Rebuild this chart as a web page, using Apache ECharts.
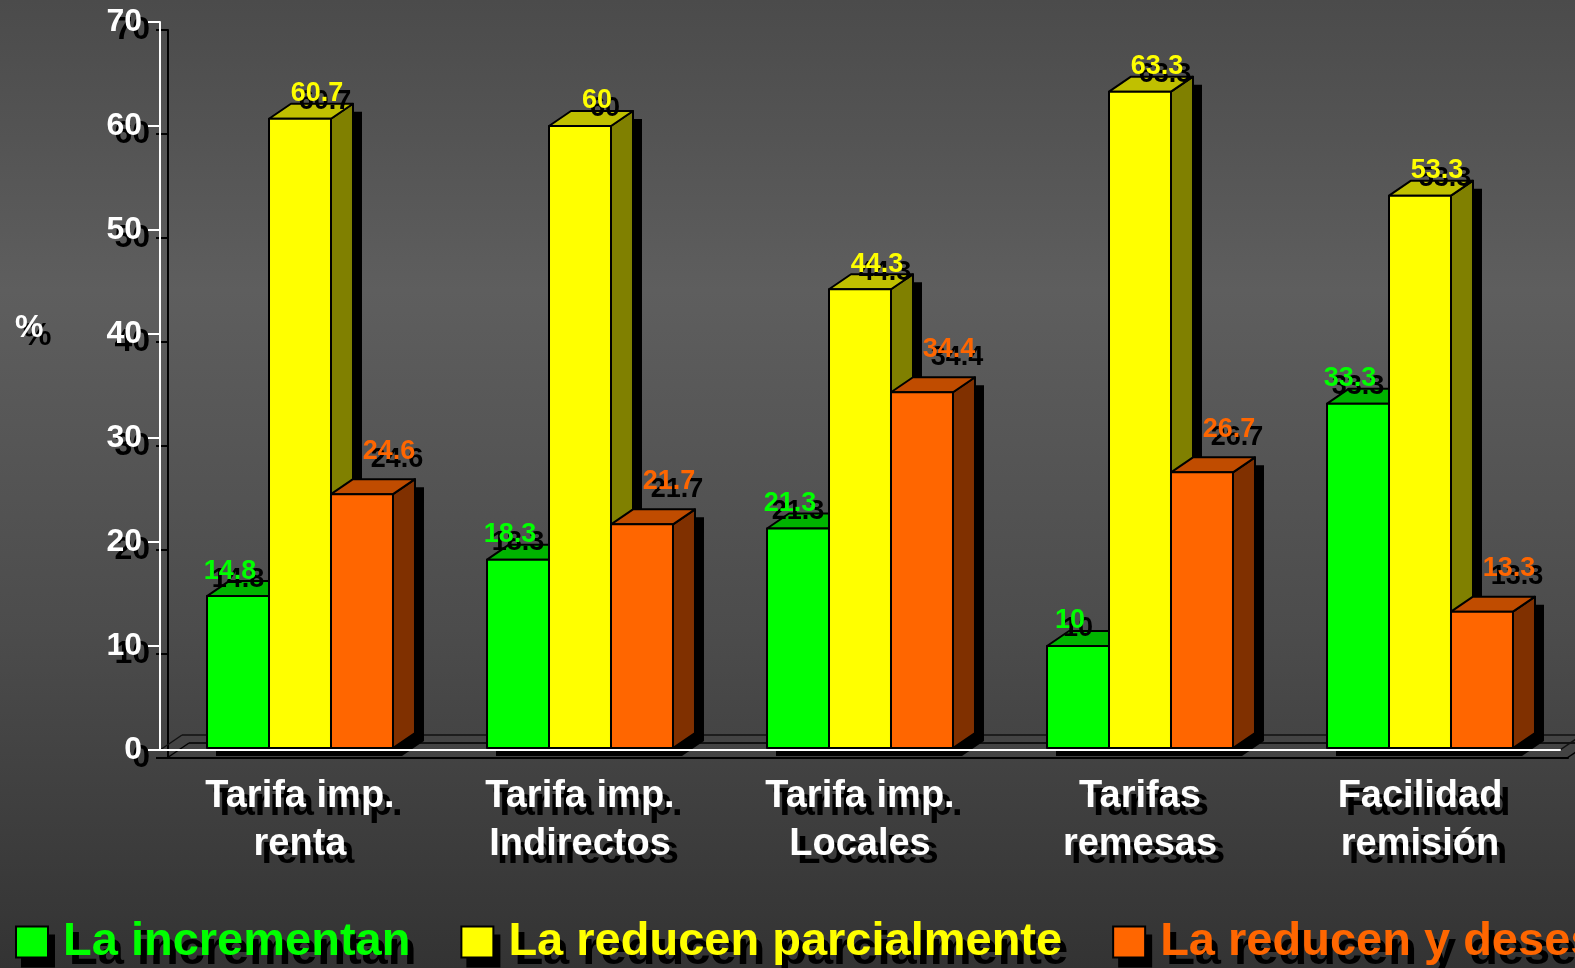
<!DOCTYPE html>
<html>
<head>
<meta charset="utf-8">
<script src="https://cdn.jsdelivr.net/npm/echarts@6/dist/echarts.min.js"></script>
<style>
  html, body { margin: 0; padding: 0; }
  #chart { width: 1575px; height: 968px; }
</style>
</head>
<body>
<div id="chart"></div>
<script>
// categorias del eje x
var categories = ['Tarifa imp.\nrenta', 'Tarifa imp.\nIndirectos', 'Tarifa imp.\nLocales', 'Tarifas\nremesas', 'Facilidad\nremisión'];
// valores de cada serie (%)
var incrementan = [14.8, 18.3, 21.3, 10, 33.3];
var reducenParcial = [60.7, 60, 44.3, 63.3, 53.3];
var reducenDesest = [24.6, 21.7, 34.4, 26.7, 13.3];
var seriesNames = ['La incrementan', 'La reducen parcialmente', 'La reducen y desestimulan'];
var yTicks = [0, 10, 20, 30, 40, 50, 60, 70];

// colores: frente, tapa, lado
var frontColors = ['#00ff00', '#ffff00', '#ff6600'];
var topColors = ['#00b400', '#c0c000', '#c04c00'];
var sideColors = ['#008000', '#808000', '#803000'];
// desplazamiento de etiquetas por serie
var labelDx = [-8, 17, 27];
var labelDy = [-10, -10, -28];

var FONT = '"Liberation Sans", Arial, sans-serif';
var DX = 22, DY = -15; // profundidad 3D
var SX = 9, SY = 8;    // sombra de barras
var TS = 8;            // sombra de textos y ejes

var chart = echarts.init(document.getElementById('chart'));

function renderBar(params, api) {
  var si = params.seriesIndex;
  var val = api.value(1);
  var base = api.coord([api.value(0), 0]);
  var top = api.coord([api.value(0), val]);
  var band = api.size([1, 0])[0];
  var bw = band * 0.2214;
  var x0 = base[0] + (si - 1.5) * bw;
  var x1 = x0 + bw;
  var yb = base[1] - 2;
  var yt = top[1];
  var stroke = { stroke: '#000', lineWidth: 2, lineJoin: 'round' };
  var tx = (x0 + x1) / 2 + labelDx[si];
  var ty = yt + DY + labelDy[si];
  var font = 'bold 27px ' + FONT;
  return {
    type: 'group',
    children: [
      {
        type: 'polygon',
        shape: { points: [
          [x0 + SX, yb + SY], [x0 + SX, yt + SY], [x0 + DX + SX, yt + DY + SY],
          [x1 + DX + SX, yt + DY + SY], [x1 + DX + SX, yb + DY + SY], [x1 + SX, yb + SY]
        ] },
        style: { fill: '#000' }
      },
      {
        type: 'polygon',
        shape: { points: [[x1, yb], [x1, yt], [x1 + DX, yt + DY], [x1 + DX, yb + DY]] },
        style: Object.assign({ fill: sideColors[si] }, stroke)
      },
      {
        type: 'polygon',
        shape: { points: [[x0, yt], [x0 + DX, yt + DY], [x1 + DX, yt + DY], [x1, yt]] },
        style: Object.assign({ fill: topColors[si] }, stroke)
      },
      {
        type: 'rect',
        shape: { x: x0, y: yt, width: bw, height: yb - yt },
        style: Object.assign({ fill: frontColors[si] }, stroke)
      },
      {
        type: 'text',
        z2: 9,
        style: { text: String(val), x: tx + TS, y: ty + TS, align: 'center', verticalAlign: 'middle', fill: '#000', font: font }
      },
      {
        type: 'text',
        z2: 10,
        style: { text: String(val), x: tx, y: ty, align: 'center', verticalAlign: 'middle', fill: frontColors[si], font: font }
      }
    ]
  };
}

function renderFloor(params, api) {
  var band = api.size([1, 0])[0];
  var first = api.coord([0, 0]);
  var last = api.coord([categories.length - 1, 0]);
  var left = first[0] - band / 2;
  var right = last[0] + band / 2;
  var y0 = first[1];
  var ls = { stroke: '#111', lineWidth: 1.5, shadowColor: '#000', shadowOffsetX: 7, shadowOffsetY: 8, shadowBlur: 0 };
  return {
    type: 'group',
    children: [
      { type: 'line', shape: { x1: left + DX, y1: y0 + DY, x2: right + DX, y2: y0 + DY }, style: ls },
      { type: 'line', shape: { x1: left, y1: y0, x2: left + DX, y2: y0 + DY }, style: ls },
      { type: 'line', shape: { x1: right, y1: y0, x2: right + DX, y2: y0 + DY }, style: ls }
    ]
  };
}

function toData(arr) {
  return arr.map(function (v, i) { return [i, v]; });
}

var allValues = [incrementan, reducenParcial, reducenDesest];
var series = allValues.map(function (arr, i) {
  return {
    name: seriesNames[i],
    type: 'custom',
    renderItem: renderBar,
    itemStyle: { color: frontColors[i] },
    encode: { x: 0, y: 1 },
    data: toData(arr),
    z: 3
  };
});
series.push({
  name: 'piso',
  type: 'custom',
  renderItem: renderFloor,
  data: [[0, 0]],
  encode: { x: 0, y: 1 },
  silent: true,
  z: 1
});

// ejes: el indice 0 es el real (blanco), el 1 es su sombra negra desplazada
function makeX(color, idx, z) {
  return {
    type: 'category',
    gridIndex: idx,
    data: categories,
    z: z,
    axisLine: { lineStyle: { color: color, width: 2 } },
    axisTick: { length: 11, lineStyle: { color: color, width: 2 } },
    axisLabel: {
      color: color, fontSize: 38, fontWeight: 'bold', fontFamily: FONT,
      lineHeight: 48, margin: 23, interval: 0
    },
    splitLine: { show: false }
  };
}
function makeY(color, idx, z) {
  return {
    type: 'value',
    gridIndex: idx,
    min: 0,
    max: 70,
    interval: 10,
    z: z,
    axisLine: { show: true, lineStyle: { color: color, width: 2 } },
    axisTick: { show: true, length: 12, lineStyle: { color: color, width: 2 } },
    axisLabel: {
      color: color, fontSize: 32, fontWeight: 'bold', fontFamily: FONT, margin: 18,
      formatter: function (v) { return yTicks.indexOf(v) >= 0 ? String(v) : ''; }
    },
    splitLine: { show: false }
  };
}

function makeLegend(shadow) {
  return {
    data: seriesNames.map(function (n, i) {
      var c = shadow ? '#000' : frontColors[i];
      return { name: n, itemStyle: { color: c }, textStyle: { color: c } };
    }),
    left: 15 + (shadow ? 6 : 0),
    top: 918 + (shadow ? 9 : 0),
    padding: 0,
    width: 3000,
    z: shadow ? 3 : 5,
    itemWidth: 32,
    itemHeight: 31,
    itemGap: 50,
    icon: 'rect',
    selectedMode: false,
    itemStyle: { borderColor: '#000', borderWidth: 2 },
    textStyle: {
      fontSize: 47, fontWeight: 'bold', fontFamily: FONT, lineHeight: 48,
      padding: [0, 0, 0, 10]
    }
  };
}

var option = {
  animation: false,
  backgroundColor: new echarts.graphic.LinearGradient(0, 0, 0, 1, [
    { offset: 0, color: '#4b4b4b' },
    { offset: 0.3, color: '#5e5e5e' },
    { offset: 0.65, color: '#4c4c4c' },
    { offset: 1, color: '#333333' }
  ]),
  grid: [
    { left: 160, right: 15, top: 22, bottom: 218 },
    { left: 160 + TS, right: 15 - TS, top: 22 + TS, bottom: 218 - TS }
  ],
  legend: [makeLegend(false), makeLegend(true)],
  xAxis: [makeX('#fff', 0, 10), makeX('#000', 1, 0)],
  yAxis: [makeY('#fff', 0, 10), makeY('#000', 1, 0)],
  graphic: [
    { type: 'text', left: 15 + TS, top: 312 + TS, z: 1, style: { text: '%', fill: '#000', font: 'bold 32px ' + FONT } },
    { type: 'text', left: 15, top: 312, z: 2, style: { text: '%', fill: '#fff', font: 'bold 32px ' + FONT } }
  ],
  series: series
};

chart.setOption(option);
</script>
</body>
</html>
